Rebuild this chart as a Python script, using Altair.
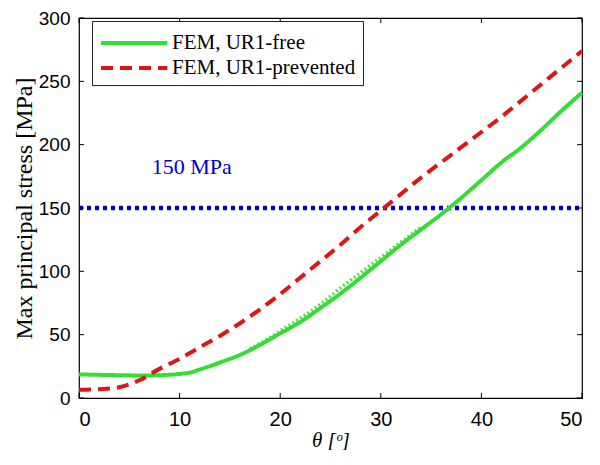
import altair as alt
import pandas as pd

# ---- data ----
theta_free = [0, 2, 4, 6, 8, 10, 11, 12, 14, 16, 18, 20, 22, 24, 26, 28, 30, 32, 34, 36, 38, 40, 42, 44, 46, 48, 50]
stress_free = [18.6, 18.3, 18.0, 17.8, 18.0, 19.0, 20.0, 22.5, 28, 34, 42, 51, 60, 71, 82.5, 95, 108, 121, 133, 145, 158, 172, 186, 198, 212, 227, 241]

theta_prev = [0, 2, 4, 6, 8, 10, 12, 14, 16, 18, 20, 22, 24, 26, 28, 30, 32, 34, 36, 38, 40, 42, 44, 46, 48, 50]
stress_prev = [6.5, 7, 8.5, 14, 23, 31, 40, 49, 59, 70, 82, 95, 108, 121, 135, 148, 161, 174, 186, 198, 210, 222, 235, 248, 261, 274]

theta_dot = [17, 18, 20, 22, 24, 26, 28, 30, 32, 34]
stress_dot = [39, 43, 53, 63, 74, 87, 99, 111, 123, 135]

limit_theta = [0, 50]
limit_stress = [150, 150]
limit_label = "150 MPa"
label_theta = [11.2]
label_stress = [182]

series_names = ["FEM, UR1-free", "FEM, UR1-prevented"]
x_ticks = [0, 10, 20, 30, 40, 50]
y_ticks = [0, 50, 100, 150, 200, 250, 300]

W, H = 503, 380
GREEN = "#33dd33"
RED = "#dd1515"
BLUE = "#0000cc"
SERIF = "Liberation Serif"
SANS = "Liberation Sans"

df_main = pd.concat([
    pd.DataFrame({"theta": theta_free, "stress": stress_free, "series": series_names[0]}),
    pd.DataFrame({"theta": theta_prev, "stress": stress_prev, "series": series_names[1]}),
])
df_dot = pd.DataFrame({"theta": theta_dot, "stress": stress_dot})
df_lim = pd.DataFrame({"theta": limit_theta, "stress": limit_stress})
df_lab = pd.DataFrame({"theta": label_theta, "stress": label_stress, "txt": [limit_label]})
df_xt = pd.DataFrame({"v": x_ticks})
df_yt = pd.DataFrame({"v": y_ticks})

xscale = alt.Scale(domain=[0, 50], nice=False)
yscale = alt.Scale(domain=[0, 300], nice=False)

xaxis = alt.Axis(values=x_ticks, title="θ [ᵒ]", grid=False, ticks=False, domain=False,
                 labelFont=SANS, labelFontSize=20, labelColor="black", labelPadding=11,
                 titleFont=SERIF, titleFontSize=21, titleFontStyle="italic", titleFontWeight="normal",
                 titleColor="black", titlePadding=0)
yaxis = alt.Axis(values=y_ticks, title="Max principal stress [MPa]", grid=False, ticks=False, domain=False,
                 labelFont=SANS, labelFontSize=19, labelColor="black", labelPadding=9,
                 titleFont=SERIF, titleFontSize=24, titleFontWeight="normal", titleColor="black",
                 titlePadding=2)

lim = alt.Chart(df_lim).mark_line(color=BLUE, strokeWidth=4.5, strokeDash=[4, 4], strokeCap="butt").encode(
    x=alt.X("theta:Q", scale=xscale, axis=xaxis),
    y=alt.Y("stress:Q", scale=yscale, axis=yaxis),
)

dot = alt.Chart(df_dot).mark_line(color=GREEN, strokeWidth=3.5, strokeDash=[2, 2.5], strokeCap="butt",
                                  opacity=0.85, interpolate="monotone").encode(
    x=alt.X("theta:Q", scale=xscale),
    y=alt.Y("stress:Q", scale=yscale),
)

main = alt.Chart(df_main).mark_line(strokeWidth=4, strokeCap="butt", interpolate="monotone").encode(
    x=alt.X("theta:Q", scale=xscale),
    y=alt.Y("stress:Q", scale=yscale),
    color=alt.Color("series:N", scale=alt.Scale(domain=series_names, range=[GREEN, RED]), title=None,
                    legend=alt.Legend(orient="none", legendX=13, legendY=3)),
    strokeDash=alt.StrokeDash("series:N", scale=alt.Scale(domain=series_names, range=[[1, 0], [12, 7]]),
                              title=None),
)

lab = alt.Chart(df_lab).mark_text(font=SERIF, fontSize=22, color=BLUE, align="center").encode(
    x=alt.X("theta:Q", scale=xscale),
    y=alt.Y("stress:Q", scale=yscale),
    text="txt:N",
)

TL = 5
tick_left = alt.Chart(df_yt).mark_rule(color="black", strokeWidth=1).encode(
    y=alt.Y("v:Q", scale=yscale), x=alt.value(0), x2=alt.value(TL))
tick_right = alt.Chart(df_yt).mark_rule(color="black", strokeWidth=1).encode(
    y=alt.Y("v:Q", scale=yscale), x=alt.value(W), x2=alt.value(W - TL))
tick_bottom = alt.Chart(df_xt).mark_rule(color="black", strokeWidth=1).encode(
    x=alt.X("v:Q", scale=xscale), y=alt.value(H), y2=alt.value(H - TL))
tick_top = alt.Chart(df_xt).mark_rule(color="black", strokeWidth=1).encode(
    x=alt.X("v:Q", scale=xscale), y=alt.value(0), y2=alt.value(TL))

chart = alt.layer(lim, dot, main, lab, tick_left, tick_right, tick_bottom, tick_top).properties(
    width=W, height=H,
    autosize=alt.AutoSizeParams(type="none"),
    padding={"left": 71, "top": 10, "right": 10, "bottom": 52},
).configure_view(stroke="black", strokeWidth=1.2).configure_legend(
    strokeColor="#222222", fillColor="white", padding=7, cornerRadius=0,
    labelFont=SERIF, labelFontSize=21, labelColor="black", labelLimit=400,
    symbolType="M-1,0H4.1", symbolSize=676, symbolStrokeWidth=4, rowPadding=-4, labelOffset=43,
)

chart.save("out.html", embed_options={"renderer": "svg", "actions": False})
